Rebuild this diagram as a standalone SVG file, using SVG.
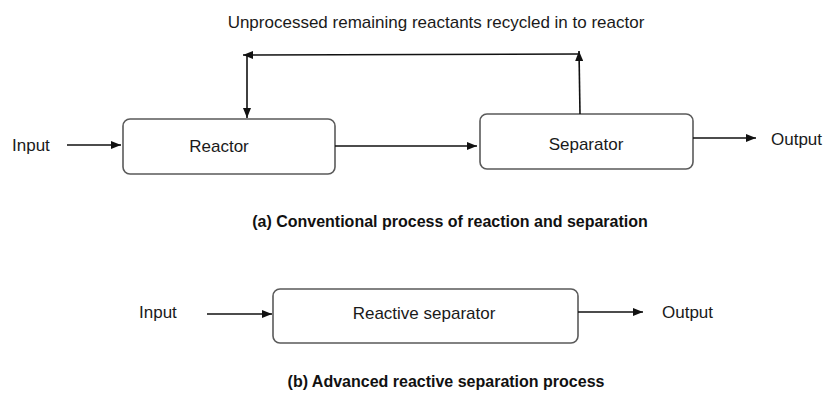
<svg xmlns="http://www.w3.org/2000/svg" width="825" height="393" viewBox="0 0 825 393">
<style>
text{font-family:"Liberation Sans",Arial,sans-serif;font-size:17px;fill:#1a1a1a}
.cap{font-weight:bold;font-size:16px;fill:#111}
.box{fill:#fff;stroke:#5a5a5a;stroke-width:1.6}
.ln{stroke:#111;stroke-width:1.6;fill:none}
</style>
<defs>
<marker id="ah" viewBox="0 0 10 8" refX="10" refY="4" markerWidth="10" markerHeight="8" markerUnits="userSpaceOnUse" orient="auto">
<path d="M0,0 L10,4 L0,8 Z" fill="#111"/>
</marker>
</defs>
<rect width="825" height="393" fill="#fff"/>
<text x="436" y="28" text-anchor="middle">Unprocessed remaining reactants recycled in to reactor</text>
<g id="reactor">
<rect class="box" x="123" y="119" width="212" height="55" rx="7"/>
<text x="219" y="152" text-anchor="middle">Reactor</text>
</g>
<g id="separator">
<rect class="box" x="480" y="114" width="213" height="55" rx="7"/>
<text x="586" y="150" text-anchor="middle">Separator</text>
</g>
<g id="reactive-separator">
<rect class="box" x="273" y="289" width="305" height="54" rx="7"/>
<text x="424" y="319" text-anchor="middle">Reactive separator</text>
</g>
<g id="labels">
<text x="12" y="151">Input</text>
<text x="771" y="145">Output</text>
<text x="139" y="318">Input</text>
<text x="662" y="318">Output</text>
<text class="cap" x="450" y="227" text-anchor="middle">(a) Conventional process of reaction and separation</text>
<text class="cap" x="446" y="387" text-anchor="middle">(b) Advanced reactive separation process</text>
</g>
<g id="connectors">
<line class="ln" x1="67" y1="145" x2="121" y2="145" marker-end="url(#ah)"/>
<line class="ln" x1="335" y1="146" x2="477" y2="146" marker-end="url(#ah)"/>
<line class="ln" x1="693" y1="138" x2="756" y2="138" marker-end="url(#ah)"/>
<line class="ln" x1="580" y1="114" x2="579" y2="51" marker-end="url(#ah)"/>
<line class="ln" x1="579" y1="54" x2="243" y2="55" marker-end="url(#ah)"/>
<line class="ln" x1="247" y1="55" x2="247" y2="118" marker-end="url(#ah)"/>
<line class="ln" x1="207" y1="314" x2="272" y2="314" marker-end="url(#ah)"/>
<line class="ln" x1="578" y1="312" x2="643" y2="312" marker-end="url(#ah)"/>
</g>
</svg>
